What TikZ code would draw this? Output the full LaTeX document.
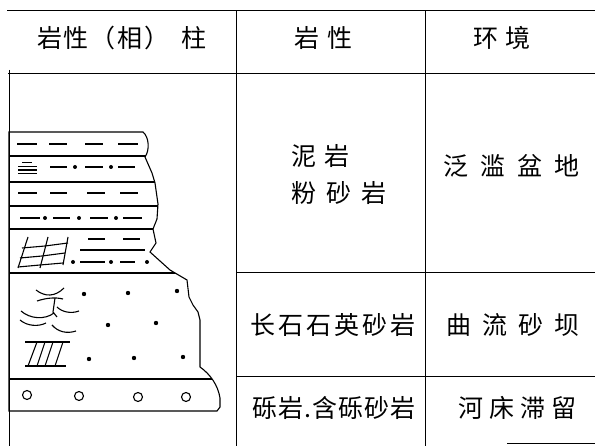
\documentclass[tikz,border=0pt]{standalone}
\usepackage{fontspec}
\newfontfamily\cjk{Noto Sans CJK SC}
\newlength\chargap
\makeatletter
% set a string character by character with a fixed gap between characters
\newcommand\spreadchars[2]{\setlength\chargap{#1}\spread@a#2\@nil}
\def\spread@a#1#2\@nil{#1\ifx\relax#2\relax\else\hspace{\chargap}\spread@a#2\@nil\fi}
\makeatother
\newcommand\gp{\hspace{\chargap}}
% outline of the lithologic column
\newcommand\columnoutline{(9,132) -- (143,132) .. controls (149,137) and (150,150) .. (145,157)
  -- (152,173) -- (155,183) -- (158,204) -- (157,219) -- (153,229) -- (156,243) -- (150,252)
  -- (170,270) -- (187,280) -- (189,297) -- (193,305) -- (198,312) -- (200,320) -- (200,367)
  .. controls (210,374) and (218,385) .. (220,398) -- (220,407) -- (217,411) -- (9,411) -- cycle}
\begin{document}
\begin{tikzpicture}[x=1pt,y=-1pt,
  rule/.style={line width=1pt},
  bed/.style={line width=1.1pt},
  pat/.style={line width=1.1pt},
  grain/.style={fill=black},
  pebble/.style={line width=1.1pt},
  lbl/.style={font=\cjk\fontsize{25}{25}\selectfont, inner sep=0pt,
    text height=0.83em, text depth=0.07em},
]
\useasboundingbox (0,0) rectangle (595,446);

% table rules
\draw[rule] (7,11) -- (595,11);
\draw[rule] (8,74) -- (595,74);
\draw[rule] (9,70) -- (9,446);
\draw[rule] (236,11) -- (236,446);
\draw[rule] (425,11) -- (425,446);
\draw[rule] (236,273) -- (595,273);
\draw[rule] (236,377) -- (595,377);
\draw[rule] (507,444) -- (595,444);

% header
\node[lbl] (hdrcol) at (122,44) {\setlength\chargap{2pt}岩\gp 性\gp （\gp 相\gp ）\hspace{12pt}柱};
\node[lbl] (hdrlith) at (323,44) {\spreadchars{8pt}{岩性}};
\node[lbl] (hdrenv) at (502,44) {\spreadchars{7pt}{环境}};

% lithology and environment
\node[lbl, anchor=west] (lithA) at (291,162) {\spreadchars{8pt}{泥岩}};
\node[lbl, anchor=west] (lithB) at (291,199) {\spreadchars{10pt}{粉砂岩}};
\node[lbl] (envA) at (511,172) {\spreadchars{12pt}{泛滥盆地}};
\node[lbl] (lithC) at (333,331) {\spreadchars{3pt}{长石石英砂岩}};
\node[lbl] (envC) at (513,331) {\spreadchars{11pt}{曲流砂坝}};
\node[lbl] (lithD) at (334,414) {\spreadchars{1pt}{砾岩.含砾砂岩}};
\node[lbl] (envD) at (517,414) {\spreadchars{6pt}{河床滞留}};

% column: bed boundaries clipped to the outline
\begin{scope}
  \clip \columnoutline;
  \foreach \yy in {156,182,206,229,273,379}
    \draw[bed] (9,\yy) -- (230,\yy);
\end{scope}
\draw[bed] \columnoutline;

% mudstone
\foreach \a/\b in {17/37,49/67,85/103,118/138}
  \draw[pat] (\a,144) -- (\b,144);
\foreach \a/\b in {18/37,50/67,87/105,120/138}
  \draw[pat] (\a,193) -- (\b,193);

% silty mudstone with laminae
\draw[pat] (22,162.7) -- (32,162.7);
\foreach \yy in {166.3,170,173.7}
  \draw[pat] (18,\yy) -- (37,\yy);
\foreach \a/\b in {50/67,85/103,118/135}
  \draw[pat] (\a,167) -- (\b,167);
\foreach \xx in {75,111}
  \fill[grain] (\xx,167) circle (2);

% siltstone
\foreach \a/\b in {20/40,53/70,90/108,123/142}
  \draw[pat] (\a,218) -- (\b,218);
\foreach \xx in {45,79,116}
  \fill[grain] (\xx,218) circle (2);

% interbedded unit with ripple cross-lamination
\draw[pat] (28,237) -- (18,268);
\draw[pat] (48,237) -- (40,268);
\draw[pat] (68,237) -- (63,265);
\draw[pat] (22,248) -- (45,246) -- (68,243);
\draw[pat] (20,258) -- (42,256) -- (65,253);
\draw[pat] (18,267) -- (40,265) -- (63,263);
\foreach \a/\b in {88/105,123/140}
  \draw[pat] (\a,239) -- (\b,239);
\draw[pat] (80,250) -- (145,250);
\foreach \a/\b in {80/105,120/135}
  \draw[pat] (\a,262) -- (\b,262);
\foreach \xx in {73,111,147}
  \fill[grain] (\xx,262) circle (2);

% sandstone: trough cross-bedding, parallel bedding, grains
\draw[pat] (36,290) .. controls (45,297) and (55,297) .. (64,288);
\draw[pat] (37,301) .. controls (46,298) and (55,297) .. (63,299);
\draw[pat] (55,298) -- (53,312) -- (57,317);
\draw[pat] (21,311) .. controls (30,319) and (45,320) .. (54,313);
\draw[pat] (57,307) .. controls (62,312) and (71,314) .. (79,311);
\draw[pat] (20,320) .. controls (27,326) and (38,327) .. (46,323);
\draw[pat] (52,325) .. controls (58,332) and (67,334) .. (76,331);
\draw[pat] (25,342) -- (70,342);
\draw[pat] (25,366) -- (66,366);
\foreach \a/\b in {37/28,45/37,53/45,63/55}
  \draw[pat] (\a,342) -- (\b,366);
\foreach \p in {(84,294),(128,293),(177,291),(108,325),(156,323),(89,359),(134,358),(183,357)}
  \fill[grain] \p circle (2.2);

% conglomerate
\foreach \p in {(27,395),(79,396),(138,397),(186,397)}
  \draw[pebble] \p circle (4.5);
\end{tikzpicture}
\end{document}
